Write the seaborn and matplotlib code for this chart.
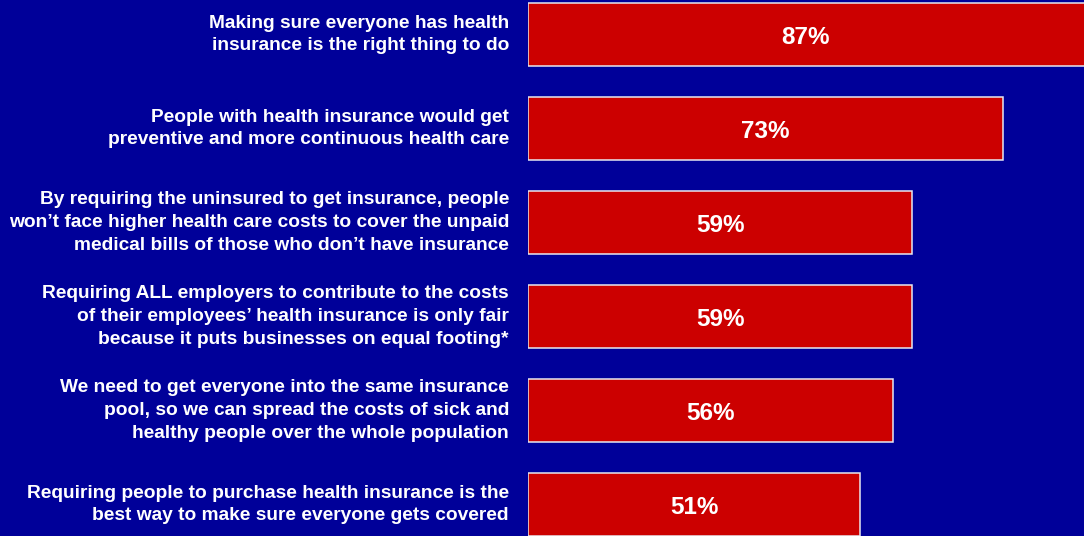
import matplotlib
matplotlib.use("Agg")
import matplotlib.pyplot as plt
import seaborn as sns
import pandas as pd

# Data
statements = [
    "Making sure everyone has health\ninsurance is the right thing to do",
    "People with health insurance would get\npreventive and more continuous health care",
    "By requiring the uninsured to get insurance, people\nwon\u2019t face higher health care costs to cover the unpaid\nmedical bills of those who don\u2019t have insurance",
    "Requiring ALL employers to contribute to the costs\nof their employees\u2019 health insurance is only fair\nbecause it puts businesses on equal footing*",
    "We need to get everyone into the same insurance\npool, so we can spread the costs of sick and\nhealthy people over the whole population",
    "Requiring people to purchase health insurance is the\nbest way to make sure everyone gets covered",
]
agree_pct = [87, 73, 59, 59, 56, 51]

bg = "#000099"
bar_red = "#CC0000"

df = pd.DataFrame({"statement": statements, "pct": agree_pct})

sns.set_style("white")
plt.rcParams["font.family"] = ["Liberation Sans", "DejaVu Sans"]

fig = plt.figure(figsize=(10.84, 5.36), dpi=100, facecolor=bg)
ax = fig.add_axes([528 / 1084, 0, 1 - 528 / 1084, 1])
ax.set_facecolor(bg)

sns.barplot(data=df, x="pct", y="statement", orient="h", color=bar_red,
            width=0.67, edgecolor="#E8E8F0", linewidth=1.1, saturation=1,
            ax=ax)

ax.set_xlim(0, 85.4)
ax.set_ylim(5.335, -0.367)

labels = ax.bar_label(ax.containers[0], fmt="{:.0f}%", label_type="center",
                      color="white", fontsize=17.5, fontweight="bold")
for t in labels:
    t.set_position((0, -2))

ax.set_xlabel("")
ax.set_ylabel("")
ax.set_xticks([])
ax.tick_params(axis="y", length=0, pad=13.7)
for lbl in ax.get_yticklabels():
    lbl.set_color("white")
    lbl.set_fontsize(13.8)
    lbl.set_fontweight("bold")
    lbl.set_linespacing(1.45)
    lbl.set_multialignment("right")
    lbl.set_verticalalignment("center")
sns.despine(ax=ax, left=True, bottom=True)

fig.savefig("out.png", dpi=100, facecolor=bg)
